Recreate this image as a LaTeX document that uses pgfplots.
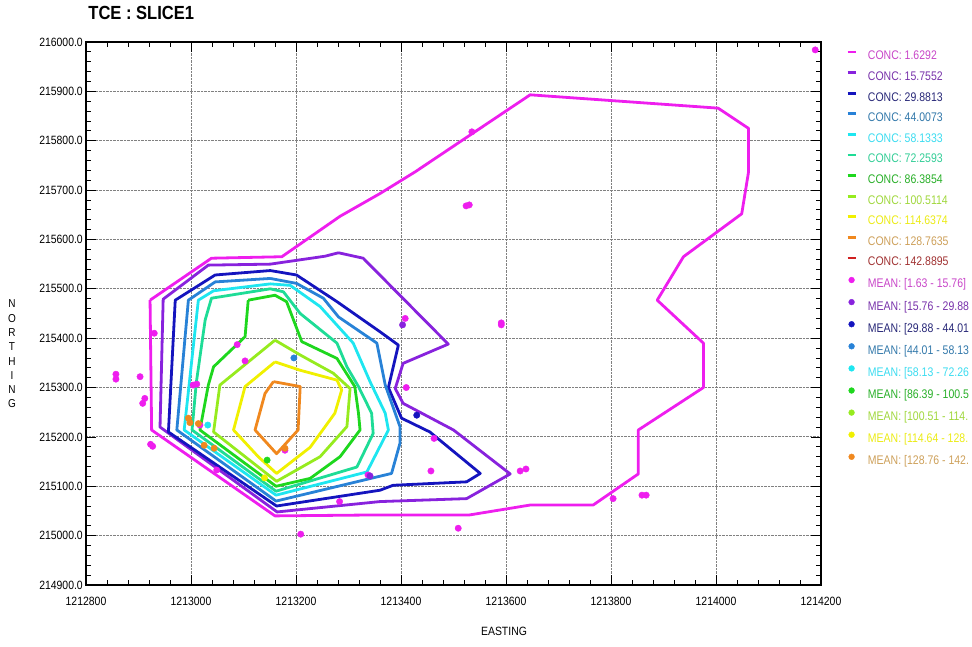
\documentclass[border=0pt]{standalone}
\usepackage{fontspec}
\setmainfont{Liberation Sans}
\newfontfamily\narrowfont{Liberation Sans}[FakeStretch=0.87]
\newfontfamily\legfont{Liberation Sans}[FakeStretch=0.84]
\usepackage{pgfplots}
\pgfplotsset{compat=1.18}

% contour line colours
\definecolor{c01}{RGB}{238,30,238}
\definecolor{c02}{RGB}{136,34,221}
\definecolor{c03}{RGB}{20,20,190}
\definecolor{c04}{RGB}{40,130,215}
\definecolor{c05}{RGB}{30,230,240}
\definecolor{c06}{RGB}{30,220,150}
\definecolor{c07}{RGB}{30,215,30}
\definecolor{c08}{RGB}{150,235,30}
\definecolor{c09}{RGB}{240,240,0}
\definecolor{c10}{RGB}{240,136,30}
\definecolor{c11}{RGB}{208,32,32}
% legend text colours
\definecolor{t01}{RGB}{200,70,200}
\definecolor{t02}{RGB}{120,50,170}
\definecolor{t03}{RGB}{40,40,120}
\definecolor{t04}{RGB}{50,120,170}
\definecolor{t05}{RGB}{60,220,240}
\definecolor{t06}{RGB}{50,205,150}
\definecolor{t07}{RGB}{40,175,40}
\definecolor{t08}{RGB}{160,215,60}
\definecolor{t09}{RGB}{235,235,20}
\definecolor{t10}{RGB}{205,160,90}
\definecolor{t11}{RGB}{160,50,50}

\pgfplotsset{
  conc/.style={line width=2.8pt, line join=round, mark=none,
    legend image code/.code={\draw[##1, line width=2.8pt] (0pt,4.4pt) -- (8pt,4.4pt);}},
  mean/.style={only marks, mark=*, mark size=3.2pt,
    legend image code/.code={\draw[##1, mark size=2.9pt] plot coordinates {(4pt,4.4pt)};}},
}

\begin{document}
\begin{tikzpicture}
\useasboundingbox (0,0) rectangle (972pt,646pt);
\begin{axis}[
  at={(86pt,61pt)}, anchor=south west,
  scale only axis, width=735pt, height=543pt,
  xmin=1212800, xmax=1214200, ymin=214900, ymax=216000,
  xtick={1212800,1213000,1213200,1213400,1213600,1213800,1214000,1214200},
  ytick={214900,215000,215100,215200,215300,215400,215500,215600,215700,215800,215900,216000},
  minor x tick num=4, minor y tick num=4,
  tick align=inside, major tick length=10pt, minor tick length=5pt,
  tick style={black, line width=0.8pt},
  axis line style={line width=1.3pt},
  grid=major, major grid style={gray, densely dotted, line width=0.9pt},
  scaled ticks=false,
  xticklabel style={/pgf/number format/.cd, fixed, precision=0, 1000 sep={}, assume math mode=true,
    /tikz/.cd, font=\narrowfont\fontsize{12}{14}\selectfont, anchor=north, inner sep=0pt, yshift=-12pt},
  yticklabel style={/pgf/number format/.cd, fixed, fixed zerofill, precision=1, 1000 sep={}, assume math mode=true,
    /tikz/.cd, font=\narrowfont\fontsize{12}{14}\selectfont, anchor=east, inner sep=0pt, xshift=-3pt},
  title={TCE : SLICE1},
  title style={at={(axis description cs:0.003,1)}, anchor=base west, yshift=16pt,
    font=\narrowfont\bfseries\fontsize{19}{22}\selectfont, inner sep=0pt},
  xlabel={EASTING},
  every axis x label/.style={at={(axis description cs:0.5687,0)}, anchor=center, yshift=-46pt,
    font=\narrowfont\fontsize{12}{14}\selectfont},
  ylabel={N\\O\\R\\T\\H\\I\\N\\G},
  every axis y label/.style={at={(axis description cs:0,0.4254)}, anchor=center, xshift=-74pt,
    align=center, font=\narrowfont\fontsize{11.5}{14.3}\selectfont},
  legend cell align=left,
  legend style={draw=none, fill=none, at={(axis description cs:1.034,0.9847)}, anchor=north west,
    inner sep=0pt, row sep=9.3pt,
    nodes={inner sep=0pt, text height=9pt, text depth=2pt},
    /tikz/every odd column/.append style={column sep=11pt},
    font=\legfont\fontsize{12.5}{14}\selectfont},
]

% CONC 1.6292
\addplot[conc, c01] coordinates {
 (1212922,215477) (1213039,215562) (1213173,215565) (1213284,215647) (1213360,215693)
 (1213427,215737) (1213646,215893) (1214004,215866) (1214062,215825) (1214062,215737)
 (1214049,215652) (1213938,215565) (1213888,215477) (1213976,215390) (1213976,215300)
 (1213852,215214) (1213852,215125) (1213766,215062) (1213646,215062) (1213531,215042)
 (1213360,215042) (1213160,215040) (1212925,215214) (1212922,215477)
};
\addlegendentry{\textcolor{t01}{CONC: 1.6292}}
% CONC 15.7552
\addplot[conc, c02] coordinates {
 (1213281,215573) (1213328,215562) (1213490,215388) (1213404,215349) (1213389,215298)
 (1213404,215268) (1213500,215214) (1213608,215125) (1213525,215075) (1213360,215069)
 (1213164,215048) (1212941,215220) (1212947,215479) (1213033,215548) (1213151,215550)
 (1213255,215566) (1213281,215573)
};
\addlegendentry{\textcolor{t02}{CONC: 15.7552}}
% CONC 29.8813
\addplot[conc, c03] coordinates {
 (1213151,215537) (1213201,215528) (1213278,215474) (1213360,215413) (1213395,215386)
 (1213376,215300) (1213401,215238) (1213455,215210) (1213551,215126) (1213525,215109)
 (1213385,215102) (1213360,215092) (1213163,215060) (1212957,215210) (1212970,215477)
 (1213046,215528) (1213151,215537)
};
\addlegendentry{\textcolor{t03}{CONC: 29.8813}}
% CONC 44.0073
\addplot[conc, c04] coordinates {
 (1213151,215521) (1213201,215511) (1213252,215481) (1213281,215443) (1213354,215390)
 (1213370,215305) (1213398,215221) (1213398,215187) (1213382,215126) (1213162,215070)
 (1212973,215214) (1212995,215477) (1213046,215514) (1213151,215521)
};
\addlegendentry{\textcolor{t04}{CONC: 44.0073}}
% CONC 58.1333
\addplot[conc, c05] coordinates {
 (1213151,215510) (1213189,215507) (1213246,215464) (1213309,215390) (1213341,215312)
 (1213370,215248) (1213376,215214) (1213335,215129) (1213162,215082) (1212987,215214)
 (1213014,215477) (1213043,215496) (1213151,215510)
};
\addlegendentry{\textcolor{t05}{CONC: 58.1333}}
% CONC 72.2593
\addplot[conc, c06] coordinates {
 (1213151,215500) (1213176,215494) (1213208,215450) (1213278,215390) (1213297,215342)
 (1213319,215302) (1213344,215248) (1213347,215207) (1213316,215139) (1213162,215090)
 (1213002,215214) (1213010,215309) (1213027,215437) (1213039,215481) (1213151,215500)
};
\addlegendentry{\textcolor{t06}{CONC: 72.2593}}
% CONC 86.3854
\addplot[conc, c07] coordinates {
 (1213109,215477) (1213160,215487) (1213182,215474) (1213211,215393) (1213278,215359)
 (1213312,215302) (1213319,215248) (1213322,215214) (1213284,215160) (1213227,215116)
 (1213162,215100) (1213017,215214) (1213033,215305) (1213043,215342) (1213103,215403)
 (1213109,215477)
};
\addlegendentry{\textcolor{t07}{CONC: 86.3854}}
% CONC 100.5114
\addplot[conc, c08] coordinates {
 (1213160,215396) (1213208,215366) (1213271,215329) (1213303,215298) (1213297,215221)
 (1213246,215160) (1213163,215110) (1213043,215210) (1213055,215305) (1213160,215396)
};
\addlegendentry{\textcolor{t08}{CONC: 100.5114}}
% CONC 114.6374
\addplot[conc, c09] coordinates {
 (1213160,215352) (1213208,215335) (1213278,215315) (1213287,215295) (1213274,215248)
 (1213227,215179) (1213163,215126) (1213128,215160) (1213081,215214) (1213103,215302)
 (1213160,215352)
};
\addlegendentry{\textcolor{t09}{CONC: 114.6374}}
% CONC 128.7635
\addplot[conc, c10] coordinates {
 (1213157,215312) (1213208,215302) (1213204,215214) (1213163,215166) (1213122,215214)
 (1213141,215288) (1213157,215312)
};
\addlegendentry{\textcolor{t10}{CONC: 128.7635}}
% CONC 142.8895 (not reached in the slice)
\addlegendimage{conc, c11}
\addlegendentry{\textcolor{t11}{CONC: 142.8895}}

% MEAN points
\addplot[mean, c01] coordinates {
 (1214189,215984) (1213535,215818) (1213524,215668) (1213530,215670) (1213408,215440)
 (1213591,215431) (1213591,215427) (1213410,215300) (1213463,215197) (1213457,215131)
 (1213627,215131) (1213638,215135) (1213804,215075) (1213859,215082) (1213867,215082)
 (1213509,215015) (1213209,215003) (1213283,215069) (1213337,215123) (1212930,215410)
 (1212903,215322) (1212912,215278) (1212908,215268) (1212927,215181) (1212923,215185)
 (1212857,215327) (1212857,215317) (1213088,215387) (1213103,215354) (1213004,215305)
 (1213011,215307) (1213049,215133) (1213017,215224) (1213179,215173)
};
\addlegendentry{\textcolor{t01}{MEAN: [1.63 - 15.76]}}
\addplot[mean, c02] coordinates {(1213403,215427) (1213341,215121)};
\addlegendentry{\textcolor{t02}{MEAN: [15.76 - 29.88}}
\addplot[mean, c03] coordinates {(1213430,215244)};
\addlegendentry{\textcolor{t03}{MEAN: [29.88 - 44.01}}
\addplot[mean, c04] coordinates {(1213196,215360)};
\addlegendentry{\textcolor{t04}{MEAN: [44.01 - 58.13}}
\addplot[mean, c05] coordinates {(1213032,215224)};
\addlegendentry{\textcolor{t05}{MEAN: [58.13 - 72.26}}
\addplot[mean, c07] coordinates {(1213145,215153)};
\addlegendentry{\textcolor{t07}{MEAN: [86.39 - 100.5}}
\addlegendimage{mean, c08}
\addlegendentry{\textcolor{t08}{MEAN: [100.51 - 114.}}
\addplot[mean, c09] coordinates {(1213140,215117)};
\addlegendentry{\textcolor{t09}{MEAN: [114.64 - 128.}}
\addplot[mean, c10] coordinates {
 (1212995,215238) (1212998,215229) (1213014,215227) (1213025,215183) (1213044,215177)
 (1213179,215177)
};
\addlegendentry{\textcolor{t10}{MEAN: [128.76 - 142.}}
\end{axis}
\end{tikzpicture}
\end{document}
